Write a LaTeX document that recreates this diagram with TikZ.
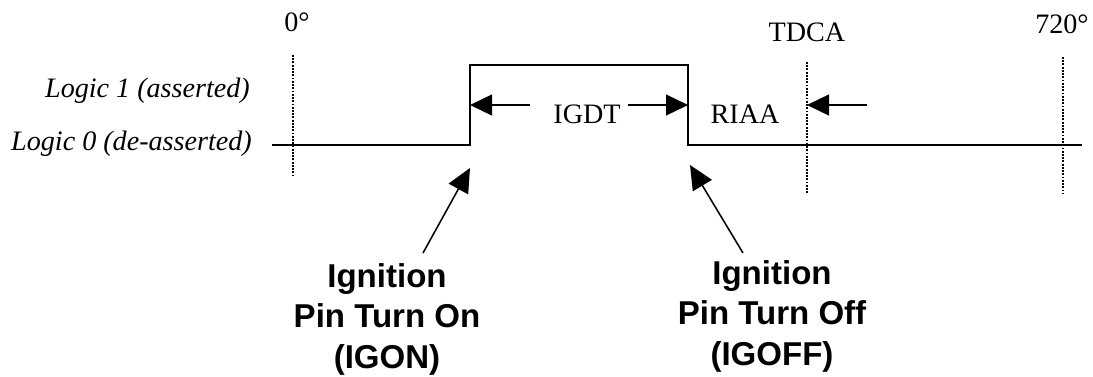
\documentclass[tikz,border=0pt]{standalone}
\usepackage{fontspec}
\setmainfont{Liberation Serif}
\newfontfamily\pinfont{Liberation Sans}
\usepackage{tikz}
\usetikzlibrary{arrows.meta}

\begin{document}
\begin{tikzpicture}[
  sig/.style={black, line width=1.4pt},
  guide/.style={black, line width=1.3pt, densely dotted},
  span/.style={black, line width=1.4pt, -{Triangle[length=0.55cm,width=0.52cm]}},
  pointer/.style={black, line width=1.1pt, -{Triangle[length=0.6cm,width=0.55cm]}},
  lbl/.style={font=\fontsize{20}{24}\selectfont, inner sep=0pt, anchor=base},
  levellbl/.style={font=\fontsize{20}{24}\selectfont\itshape, inner sep=0pt, anchor=base east},
  pinlbl/.style={font=\pinfont\bfseries\fontsize{23.5}{29}\selectfont, align=center, inner sep=0pt, anchor=north}]
\useasboundingbox (0cm,0cm) rectangle (27.325cm,-9.4cm);
% signal
\draw[sig] (6.8cm,-3.625cm) -- (11.75cm,-3.625cm) -- (11.75cm,-1.625cm) -- (17.2cm,-1.625cm) -- (17.2cm,-3.625cm) -- (27.05cm,-3.625cm);
% angle marks
\draw[guide] (7.325cm,-1.375cm) -- (7.325cm,-4.375cm);
\draw[guide] (20.175cm,-1.55cm) -- (20.175cm,-4.825cm);
\draw[guide] (26.575cm,-1.425cm) -- (26.575cm,-4.825cm);
\node[lbl] (deg0) at (7.425cm,-0.79cm) {0\textdegree};
\node[lbl] (tdca) at (20.175cm,-1.04cm) {TDCA};
\node[lbl] (deg720) at (26.55cm,-0.83cm) {720\textdegree};
\node[levellbl] (logichi) at (6.25cm,-2.425cm) {Logic 1 (asserted)};
\node[levellbl] (logiclo) at (6.3cm,-3.76cm) {Logic 0 (de-asserted)};
% spans
\node[lbl] (igdt) at (14.675cm,-3.075cm) {IGDT};
\node[lbl] (riaa) at (18.625cm,-3.075cm) {RIAA};
\coordinate (igdtL) at (13.25cm,-2.625cm);
\coordinate (igdtR) at (15.7cm,-2.625cm);
\coordinate (rise) at (11.75cm,-2.625cm);
\coordinate (fall) at (17.2cm,-2.625cm);
\coordinate (riaaR) at (21.675cm,-2.625cm);
\coordinate (tdcaM) at (20.175cm,-2.625cm);
\draw[span] (igdtL) -- (rise);
\draw[span] (igdtR) -- (fall);
\draw[span] (riaaR) -- (tdcaM);
% pin events
\node[pinlbl] (igon) at (9.675cm,-6.57cm) {Ignition\\Pin Turn On\\(IGON)};
\node[pinlbl] (igoff) at (19.3cm,-6.5cm) {Ignition\\Pin Turn Off\\(IGOFF)};
\coordinate (igonT) at (10.575cm,-6.325cm);
\coordinate (igonH) at (11.75cm,-4.2cm);
\coordinate (igoffT) at (18.575cm,-6.325cm);
\coordinate (igoffH) at (17.25cm,-4.125cm);
\draw[pointer] (igonT) -- (igonH);
\draw[pointer] (igoffT) -- (igoffH);
\end{tikzpicture}
\end{document}
